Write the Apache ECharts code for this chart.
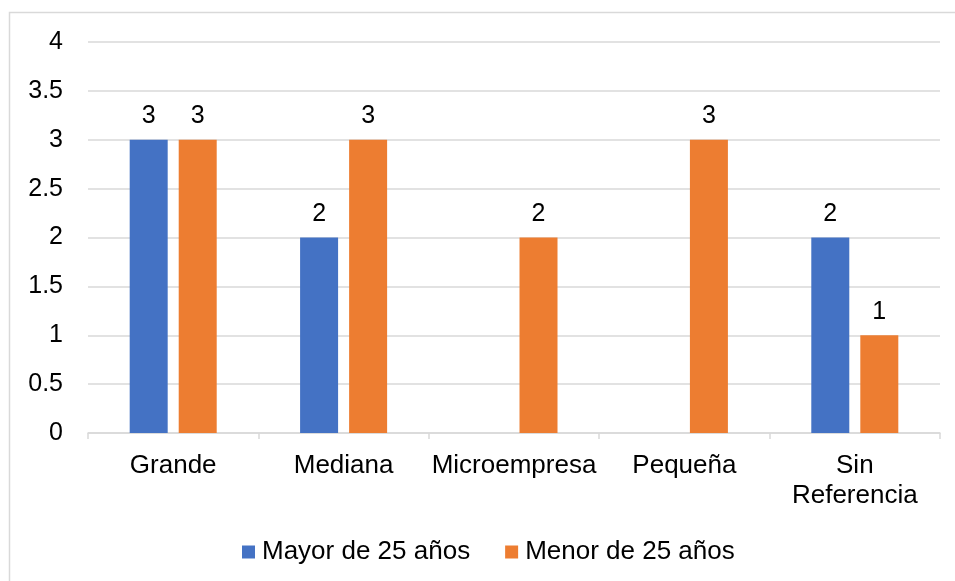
<!DOCTYPE html>
<html>
<head>
<meta charset="utf-8">
<script src="https://cdn.jsdelivr.net/npm/echarts@6/dist/echarts.min.js"></script>
<style>
  html, body { margin: 0; padding: 0; background: #fff; }
  #chart { width: 955px; height: 581px; }
</style>
</head>
<body>
<div id="chart"></div>
<script>
const categories = ['Grande', 'Mediana', 'Microempresa', 'Pequeña', 'Sin\nReferencia']
const mayor = [3, 2, '-', '-', 2]
const menor = [3, 3, 2, 3, 1]
const seriesNames = ['Mayor de 25 años', 'Menor de 25 años']

const font = 'Liberation Sans, Arial, sans-serif'
const chart = echarts.init(document.getElementById('chart'))

const labelStyle = {
  show: true,
  position: 'top',
  distance: 11,
  color: '#000',
  fontSize: 25,
  fontFamily: font,
}

chart.setOption({
  animation: false,
  graphic: [
    {
      type: 'rect',
      shape: { x: 9.5, y: 12.5, width: 1000, height: 700 },
      style: { fill: 'none', stroke: '#d9d9d9', lineWidth: 1.5 },
      silent: true,
    },
  ],
  grid: {
    left: 88,
    right: 15,
    top: 42,
    bottom: 148,
  },
  legend: {
    left: 242,
    top: 539,
    padding: 0,
    itemWidth: 13,
    itemHeight: 13,
    itemGap: 35,
    icon: 'rect',
    textStyle: { color: '#000', fontSize: 26, fontFamily: font, padding: [0, 0, 0, 2] },
    data: seriesNames,
  },
  xAxis: {
    type: 'category',
    data: categories,
    axisLine: { lineStyle: { color: '#d9d9d9', width: 1.5 } },
    axisTick: { show: true, length: 6, lineStyle: { color: '#d9d9d9', width: 1.5 } },
    axisLabel: {
      color: '#000',
      fontSize: 26,
      fontFamily: font,
      margin: 18,
      lineHeight: 30,
      interval: 0,
    },
  },
  yAxis: {
    type: 'value',
    min: 0,
    max: 4,
    interval: 0.5,
    axisLine: { show: false },
    axisTick: { show: false },
    axisLabel: {
      color: '#000',
      fontSize: 25,
      fontFamily: font,
      margin: 25,
    },
    splitLine: { lineStyle: { color: '#d9d9d9', width: 1.5 } },
  },
  series: [
    {
      name: seriesNames[0],
      type: 'bar',
      data: mayor,
      barWidth: 38,
      barGap: '29%',
      itemStyle: { color: '#4472c4' },
      label: labelStyle,
    },
    {
      name: seriesNames[1],
      type: 'bar',
      data: menor,
      barWidth: 38,
      barGap: '29%',
      itemStyle: { color: '#ed7d31' },
      label: labelStyle,
    },
  ],
})
</script>
</body>
</html>
